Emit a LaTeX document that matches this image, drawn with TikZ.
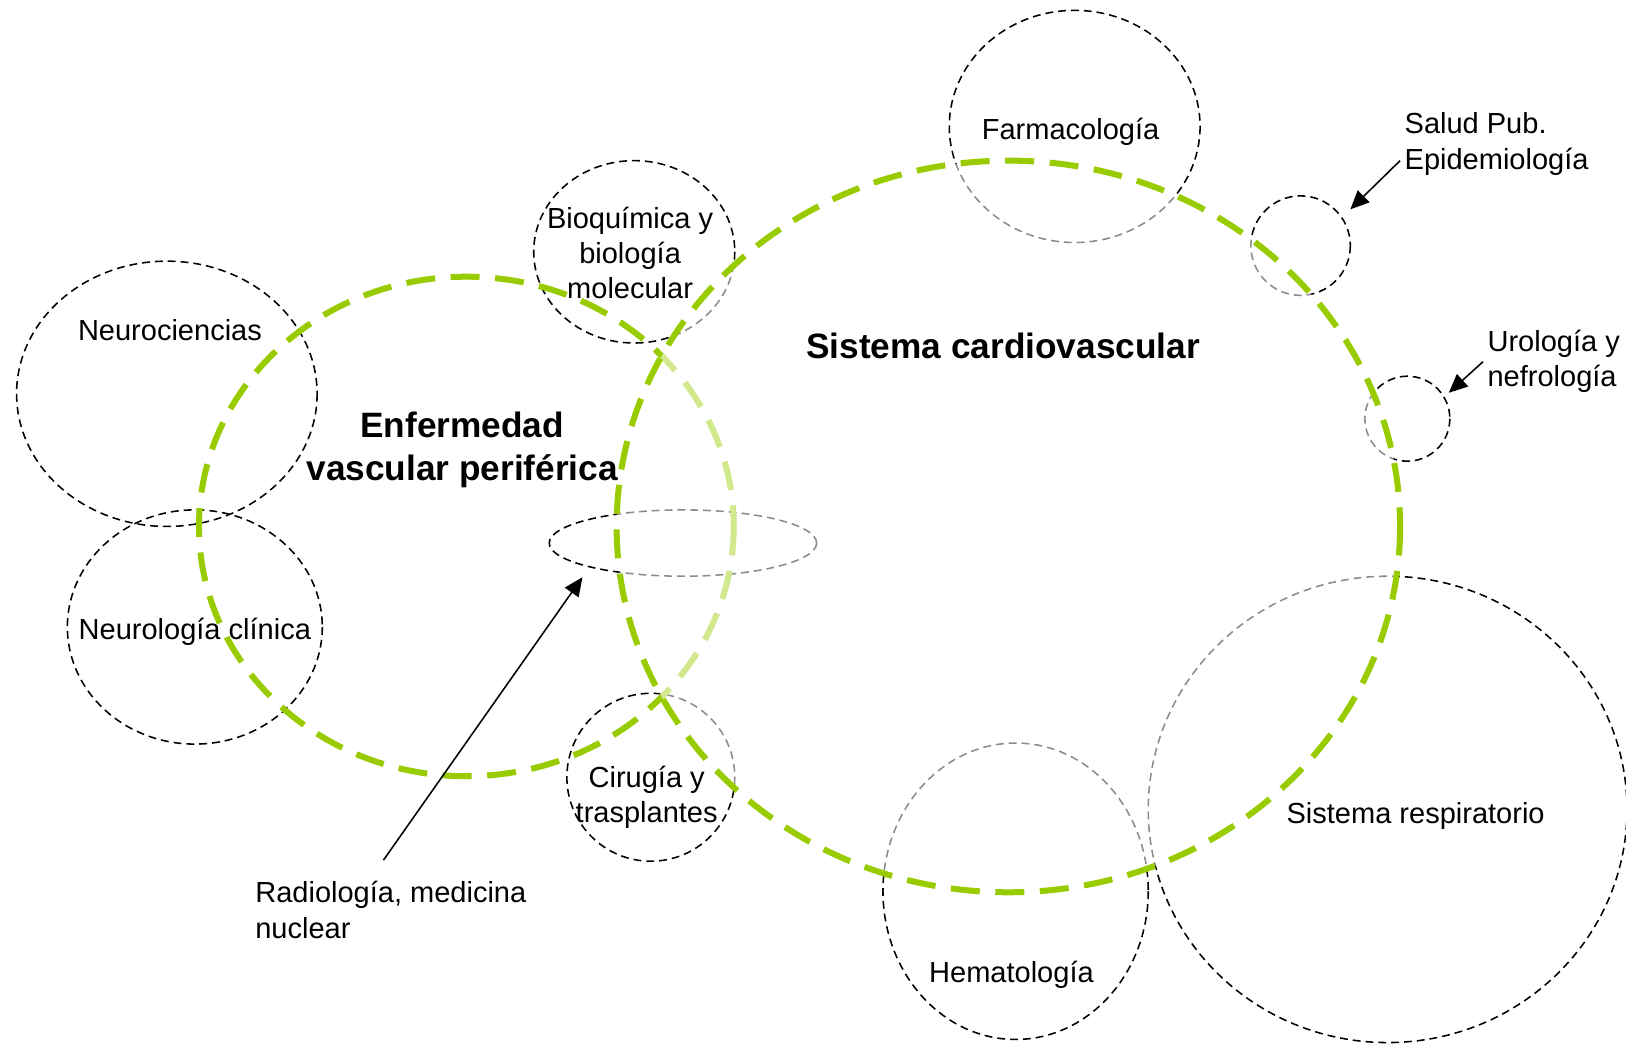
\documentclass[tikz,border=0pt]{standalone}
\usepackage{fontspec}
\setmainfont{Liberation Sans}
\usetikzlibrary{arrows.meta}
\definecolor{vgreen}{RGB}{153,204,0}
\begin{document}
\begin{tikzpicture}[x=0.5pt,y=-0.5pt,
  area/.style={draw=black,line width=0.75pt,dash pattern=on 3.8pt off 2.4pt},
  greenring/.style={draw=vgreen,line width=2.9pt,dash pattern=on 14pt off 7.5pt},
  lbl/.style={font=\fontsize{14pt}{17pt}\selectfont,align=center,inner sep=0pt},
  lbll/.style={font=\fontsize{14pt}{17pt}\selectfont,align=left,inner sep=0pt},
  big/.style={font=\fontsize{17pt}{20.5pt}\bfseries\selectfont,align=center,inner sep=0pt},
  pointer/.style={-{Triangle[length=9pt,width=8pt]},line width=0.75pt}]
\useasboundingbox (0,0) rectangle (1569,1007);
\fill[white] (0,0) rectangle (1569,1007);
% subject areas
\draw[area] (1037,122) ellipse [x radius=121,y radius=112];
\draw[area] (612,243) ellipse [x radius=97,y radius=88];
\draw[area] (161,380) ellipse [x radius=145,y radius=128];
\draw[area] (188,605) ellipse [x radius=123,y radius=113];
\draw[area] (659,524) ellipse [x radius=129,y radius=32];
\draw[area] (628,750) circle [radius=81];
\draw[area] (1255,237) circle [radius=48];
\draw[area] (1358,404) circle [radius=41];
\draw[area] (980,860) ellipse [x radius=128,y radius=143];
\draw[area] (1339,781) ellipse [x radius=231,y radius=225];
% peripheral vascular disease
\draw[greenring] (450,508) ellipse [x radius=258,y radius=241];
% cardiovascular system with translucent veil
\fill[white,opacity=0.55] (973,508) ellipse [x radius=378,y radius=353];
\draw[greenring] (973,508) ellipse [x radius=378,y radius=353];
% labels
\node[lbl] (farm) at (1033,127) {Farmacología};
\node[lbl] (bioq) at (608,244) {Bioquímica y\\biología\\molecular};
\node[lbl] (neuro) at (164,319) {Neurociencias};
\node[lbl] (neurol) at (188,610) {Neurología clínica};
\node[lbl] (cir) at (624,769) {Cirugía y\\trasplantes};
\node[lbl] (hema) at (976,941) {Hematología};
\node[lbl] (resp) at (1366,787) {Sistema respiratorio};
\node[big] (cardio) at (968,334) {Sistema cardiovascular};
\node[big] (evp) at (446,434) {Enfermedad\\vascular periférica};
\node[lbll,anchor=west] (salud) at (1355,139) {Salud Pub.\\Epidemiología};
\node[lbll,anchor=west] (uro) at (1435,349) {Urología y\\nefrología};
\node[lbll,anchor=west] (radio) at (246,878) {Radiología, medicina\\nuclear};
% pointers
\coordinate (radtail) at (370,830);
\coordinate (radtip) at (562,557);
\coordinate (saltail) at (1351,155);
\coordinate (saltip) at (1303,202);
\coordinate (urotail) at (1431,349);
\coordinate (urotip) at (1398,379);
\draw[pointer] (radtail) -- (radtip);
\draw[pointer] (saltail) -- (saltip);
\draw[pointer] (urotail) -- (urotip);
\end{tikzpicture}
\end{document}
